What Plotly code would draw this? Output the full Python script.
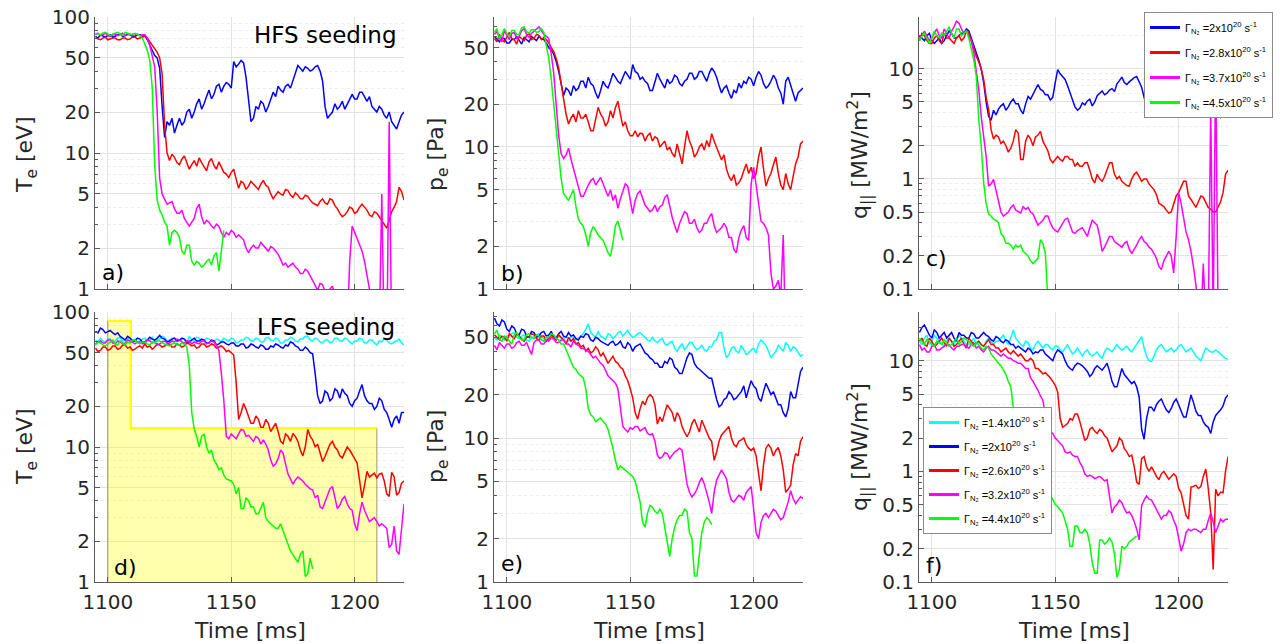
import plotly.graph_objects as go

W, H = 1280, 644
FONT = "DejaVu Sans"
TXT = "#262626"

# ---------------- data (1 ms sampling) ----------------
time_ms = [1095, 1096, 1097, 1098, 1099, 1100, 1101, 1102, 1103, 1104,
           1105, 1106, 1107, 1108, 1109, 1110, 1111, 1112, 1113, 1114,
           1115, 1116, 1117, 1118, 1119, 1120, 1121, 1122, 1123, 1124,
           1125, 1126, 1127, 1128, 1129, 1130, 1131, 1132, 1133, 1134,
           1135, 1136, 1137, 1138, 1139, 1140, 1141, 1142, 1143, 1144,
           1145, 1146, 1147, 1148, 1149, 1150, 1151, 1152, 1153, 1154,
           1155, 1156, 1157, 1158, 1159, 1160, 1161, 1162, 1163, 1164,
           1165, 1166, 1167, 1168, 1169, 1170, 1171, 1172, 1173, 1174,
           1175, 1176, 1177, 1178, 1179, 1180, 1181, 1182, 1183, 1184,
           1185, 1186, 1187, 1188, 1189, 1190, 1191, 1192, 1193, 1194,
           1195, 1196, 1197, 1198, 1199, 1200, 1201, 1202, 1203, 1204,
           1205, 1206, 1207, 1208, 1209, 1210, 1211, 1212, 1213, 1214,
           1215, 1216, 1217, 1218, 1219, 1220]

# a) Te, HFS seeding [eV]
te_hfs_blue = [72, 70, 74, 72, 71, 73, 74, 71, 72, 74,
               75, 72, 73, 75, 74, 72, 72, 74, 74, 72,
               73, 68, 62, 56, 52, 50, 42, 22, 13, 17,
               16, 18, 14, 16, 18, 16, 17, 20, 21, 18,
               20, 23, 25, 21, 23, 26, 29, 25, 27, 31,
               32, 28, 31, 33, 32, 30, 47, 43, 45, 48,
               46, 36, 24, 17, 18, 22, 21, 24, 23, 20,
               22, 25, 28, 26, 31, 29, 28, 31, 32, 30,
               34, 38, 44, 42, 40, 43, 42, 40, 41, 43,
               44, 40, 34, 22, 18, 19, 20, 23, 21, 22,
               24, 21, 23, 25, 27, 25, 25, 28, 28, 26,
               24, 26, 22, 21, 20, 22, 21, 19, 18, 20,
               17, 16, 15, 17, 19, 20]
te_hfs_red = [70, 69, 68, 70, 71, 68, 69, 70, 70, 68,
              68, 70, 70, 68, 69, 71, 71, 69, 70, 71,
              72, 70, 66, 62, 58, 55, 50, 38, 16, 10,
              8.8, 9.8, 9.3, 8.5, 8.2, 9.0, 9.5, 8.4, 7.6, 8.2,
              8.8, 8.0, 9.2, 8.5, 7.9, 7.4, 8.6, 9.1, 8.1, 7.6,
              8.6, 7.9, 7.2, 7.0, 6.6, 7.2, 7.6, 6.4, 5.5, 6.2,
              6.0, 5.4, 5.7, 6.2, 5.9, 5.6, 5.4, 5.9, 6.3, 5.8,
              5.6, 5.0, 4.6, 4.9, 5.2, 5.0, 4.9, 5.4, 5.3, 4.9,
              4.7, 5.1, 4.9, 4.6, 4.6, 4.9, 4.8, 4.5, 4.3, 4.2,
              4.1, 4.4, 4.6, 4.3, 4.2, 4.6, 4.5, 4.1, 3.9, 3.6,
              3.4, 3.5, 3.7, 4.0, 3.9, 3.6, 3.7, 4.0, 4.2, 4.0,
              3.8, 3.5, 3.4, 3.7, 3.6, 3.4, 3.2, 3.0, 2.8, 3.2,
              3.7, 4.0, 4.4, 5.6, 5.2, 4.5]
te_hfs_magenta = [74, 76, 73, 75, 76, 73, 72, 74, 75, 73,
                  74, 76, 73, 74, 75, 73, 74, 75, 73, 74,
                  74, 70, 62, 52, 43, 20, 6.5, 5.0, 4.6, 4.2,
                  4.3, 4.4, 3.9, 3.6, 3.6, 3.8, 3.3, 3.1, 2.9, 3.1,
                  3.3, 3.9, 4.2, 3.4, 3.0, 3.2, 3.1, 2.9, 2.8, 3.0,
                  2.9, 2.6, 2.4, 2.6, 2.5, 2.7, 2.6, 2.4, 2.5, 2.4,
                  2.3, 2.0, 1.85, 2.0, 2.1, 2.0, 2.0, 2.2, 2.1, 2.0,
                  1.9, 2.05, 2.0, 1.9, 1.8, 1.65, 1.5, 1.55, 1.45, 1.5,
                  1.55, 1.45, 1.4, 1.3, 1.3, 1.4, 1.35, 1.25, 1.15, 1.05,
                  0.98, 1.1, 1.08, 0.95, 0.9, 1.0, 1.05, 0.9, 0.85, 0.7,
                  0.6, 0.5, 0.5, 1.6, 2.9, 2.6, 2.4, 2.1, 1.9, 1.6,
                  1.3, 1.0, 0.6, 0.4, 0.3, 0.5, 5.0, 0.4, 0.3, 17,
                  0.4, 0.3, 0.3, 0.3, 0.3, 0.3]
te_hfs_green = [76, 75, 74, 76, 77, 75, 73, 75, 76, 77,
                75, 73, 77, 76, 74, 75, 76, 74, 73, 70,
                62, 57, 48, 30, 8, 4.5, 3.8, 3.5, 3.1, 2.9,
                2.1, 2.6, 2.7, 2.6, 2.4, 1.9, 1.8, 2.1, 2.1, 1.6,
                1.5, 1.6, 1.55, 1.45, 1.5, 1.6, 1.65, 1.5, 1.75, 1.85,
                1.35, 1.9, 2.7]

# d) Te, LFS seeding [eV]
te_lfs_cyan = [62, 60, 64, 61, 60, 63, 63, 59, 61, 64,
               65, 61, 62, 64, 60, 62, 63, 60, 61, 63,
               64, 61, 62, 65, 60, 62, 63, 66, 65, 61,
               62, 64, 64, 60, 61, 63, 63, 59, 66, 62,
               62, 65, 64, 60, 61, 64, 63, 61, 60, 63,
               62, 60, 64, 62, 61, 64, 63, 59, 60, 62,
               62, 65, 64, 61, 61, 64, 63, 60, 60, 64,
               65, 62, 61, 64, 63, 59, 59, 62, 62, 65,
               64, 61, 60, 63, 63, 66, 66, 62, 61, 64,
               63, 60, 59, 62, 62, 59, 60, 64, 64, 61,
               61, 64, 63, 60, 58, 61, 61, 64, 63, 59,
               59, 62, 62, 59, 57, 61, 60, 63, 62, 59,
               58, 60, 61, 63, 59, 57]
te_lfs_blue = [72, 70, 76, 74, 70, 72, 73, 70, 68, 70,
               66, 64, 62, 66, 64, 61, 61, 64, 63, 60,
               60, 62, 65, 63, 62, 64, 67, 64, 63, 60,
               61, 63, 64, 61, 62, 64, 63, 60, 60, 62,
               64, 61, 61, 63, 62, 59, 59, 62, 61, 57,
               58, 60, 60, 58, 57, 59, 59, 56, 56, 58,
               58, 54, 55, 58, 57, 55, 54, 57, 56, 53,
               53, 56, 55, 58, 57, 55, 54, 57, 56, 60,
               59, 56, 55, 52, 52, 55, 53, 50, 49, 35,
               24, 21, 22, 26, 25, 22, 23, 27, 26, 23,
               27, 25, 24, 21, 20, 22, 23, 26, 29, 24,
               22, 21, 21, 19, 20, 23, 22, 19, 18, 16,
               14, 16, 17, 15, 18, 18]
te_lfs_red = [54, 51, 52, 55, 55, 52, 53, 56, 56, 53,
              54, 57, 57, 54, 55, 52, 53, 55, 56, 54,
              58, 55, 56, 53, 55, 58, 57, 55, 56, 58,
              58, 55, 55, 58, 57, 55, 56, 59, 58, 56,
              57, 54, 55, 58, 58, 55, 56, 58, 57, 54,
              55, 56, 54, 51, 52, 50, 48, 30, 16, 18,
              21, 19, 17, 15, 15, 17, 16, 14, 14, 16,
              15, 13, 14, 15, 13, 11, 10.6, 12.5, 12, 11,
              12.6, 12, 11, 9.5, 8.6, 10, 13.5, 12, 11.3, 10,
              10.5, 9, 7.8, 8.5, 9.5, 10.5, 11, 10, 9.5, 8.6,
              8.3, 9.2, 10, 9.5, 8.7, 8.2, 7.6, 5.5, 4.2, 5.2,
              6.6, 6.0, 6.2, 6.4, 5.9, 6.3, 6.4, 5.6, 4.5, 4.3,
              6.5, 6.0, 4.4, 4.6, 5.4, 5.6]
te_lfs_magenta = [58, 60, 61, 59, 59, 62, 62, 59, 58, 61,
                  60, 58, 59, 62, 61, 59, 58, 60, 60, 58,
                  59, 62, 61, 59, 60, 57, 58, 60, 61, 59,
                  59, 61, 60, 63, 62, 60, 59, 61, 61, 58,
                  60, 59, 58, 61, 61, 58, 59, 61, 60, 57,
                  52, 35, 22, 12, 11.5, 12.5, 12, 11.5, 12.5, 13.5,
                  13.3, 12, 12.2, 11.5, 11, 12, 11.6, 10.5, 11.3, 10.5,
                  9.5, 8.0, 7.2, 7.5, 8.2, 9.5, 9, 7.5, 6.3, 5.8,
                  5.3, 5.7, 6, 5.8, 5.6, 5.3, 5.1, 4.9, 4.8, 4.2,
                  4.4, 3.6, 3.5, 3.9, 4.3, 4.9, 5.1, 4.2, 3.5, 3.7,
                  4.1, 4.3, 3.8, 3.5, 3.4, 2.7, 2.4, 3.2, 3.9, 3.4,
                  3.1, 2.8, 2.9, 3.0, 2.8, 2.6, 2.7, 2.6, 2.5, 1.8,
                  1.9, 2.6, 1.7, 1.6, 2.5, 3.8]
te_lfs_green = [57, 60, 59, 57, 56, 58, 60, 62, 58, 57,
                61, 59, 57, 60, 59, 62, 62, 59, 58, 60,
                60, 58, 57, 60, 59, 61, 61, 59, 58, 57,
                56, 58, 59, 57, 57, 59, 58, 55, 40, 18,
                13.5, 12, 10, 12, 12.5, 10, 9, 9.5, 8, 7.5,
                6.8, 7.0, 6.2, 5.8, 5.7, 5.6, 5.3, 4.5, 5.0, 3.5,
                3.5, 4.2, 4.0, 3.6, 3.6, 3.2, 3.2, 3.6, 3.9, 3.0,
                2.8, 2.7, 2.6, 2.5, 2.5, 2.7, 2.4, 2.1, 1.9, 1.7,
                1.6, 1.5, 1.4, 1.6, 1.7, 1.1, 1.15, 1.5, 1.25]

# seeding waveform (yellow box in panel d)
seed_t = [1100, 1100, 1109.3, 1109.3, 1209, 1209]
seed_level = [1, 86, 86, 13.8, 13.8, 1]

# b) pe, HFS seeding [Pa]
pe_hfs_blue = [60, 57, 55, 58, 58, 54, 54, 57, 57, 60,
               56, 53, 59, 57, 55, 60, 58, 56, 60, 58,
               57, 54, 50, 48, 45, 40, 34, 27, 23, 26,
               25, 23, 27, 25, 26, 29, 29, 26, 31, 28,
               27, 24, 22, 25, 29, 27, 26, 29, 33, 31,
               29, 28, 31, 34, 32, 30, 38, 34, 33, 30,
               31, 29, 28, 25, 25, 29, 33, 30, 28, 26,
               30, 28, 29, 32, 31, 28, 27, 29, 30, 33,
               33, 30, 31, 34, 34, 31, 29, 33, 36, 34,
               31, 27, 24, 26, 27, 24, 22, 25, 24, 28,
               26, 29, 28, 31, 30, 27, 31, 34, 32, 28,
               26, 27, 29, 32, 30, 26, 24, 20, 29, 31,
               27, 24, 21, 24, 25, 26]
pe_hfs_red = [58, 55, 62, 57, 55, 60, 64, 58, 57, 53,
              60, 58, 56, 61, 63, 57, 58, 62, 61, 57,
              59, 57, 54, 50, 47, 42, 36, 28, 21, 17,
              14.5, 16, 17, 15, 18, 16, 16, 17, 15, 13,
              13, 16, 19, 17, 16, 14, 15, 18, 16, 19,
              21, 17, 14, 15, 13, 12, 12, 13, 11.8, 12.5,
              12.4, 11, 12, 12.5, 11, 11.8, 11.5, 10, 10.5, 11,
              9.5, 10, 9, 8.5, 10.5, 9, 7.6, 10, 13, 11,
              10, 8.5, 9, 10, 10.5, 9.5, 11.1, 10, 12.4, 11,
              10, 9, 8.1, 8.8, 7, 6.2, 5.8, 6.4, 5.4, 5.6,
              6, 6.8, 7.6, 6.5, 7.2, 6.0, 6.5, 8.5, 10, 7,
              5.3, 6.0, 6.5, 7.5, 8.5, 6.5, 5.4, 5.0, 6.5, 5.5,
              5.0, 6.2, 7.6, 8.5, 10.5, 11]
pe_hfs_magenta = [62, 65, 58, 55, 66, 61, 57, 63, 64, 58,
                  60, 66, 68, 62, 59, 63, 65, 68, 70, 66,
                  62, 60, 58, 45, 33, 20, 12, 9, 8.3, 8.8,
                  9.8, 8.2, 7, 6.0, 5.2, 4.5, 4.5, 5.0, 5.4, 5.8,
                  6.0, 5.4, 5.8, 6.1, 5.5, 4.9, 4.5, 5.0, 4.2, 4.6,
                  3.7, 4.3, 4.8, 5.5, 5.3, 4.1, 3.4, 4.2, 4.7, 4.9,
                  4.3, 3.9, 3.7, 3.5, 3.6, 3.9, 3.5, 3.8, 3.9, 4.4,
                  4.6, 3.8, 3.2, 2.8, 2.5, 2.9, 3.2, 3.5, 3.4, 2.9,
                  2.9, 3.1, 2.7, 2.5, 2.6, 2.9, 2.9, 3.2, 3.4, 2.8,
                  2.5, 2.6, 2.7, 2.9, 2.7, 2.3, 2.3, 1.9, 1.8, 2.3,
                  2.6, 2.8, 2.3, 2.2, 5.5, 7.2, 5.2, 4.0, 3.0, 2.9,
                  2.7, 2.4, 1.3, 1.0, 1.05, 1.15, 0.9, 2.4, 0.4, 0.4,
                  0.4, 0.4, 0.4, 0.4, 0.4, 0.4]
pe_hfs_green = [64, 68, 58, 62, 68, 63, 60, 66, 66, 62,
                62, 69, 70, 65, 63, 67, 67, 64, 65, 68,
                64, 52, 42, 30, 20, 12, 8.5, 6.0, 4.7, 4.4,
                4.2, 4.6, 5.0, 3.8, 3.1, 2.9, 2.75, 2.4, 2.0, 2.5,
                2.75, 2.6, 2.4, 2.3, 2.2, 2.0, 1.8, 1.7, 2.1, 2.8,
                3.0, 2.6, 2.2]

# e) pe, LFS seeding [Pa]
pe_lfs_cyan = [50, 48, 52, 50, 48, 51, 51, 53, 54, 50,
               49, 51, 52, 48, 47, 50, 50, 52, 53, 50,
               49, 47, 51, 49, 48, 51, 52, 49, 50, 46,
               47, 50, 51, 48, 49, 51, 53, 57, 62, 54,
               52, 50, 55, 51, 50, 48, 53, 52, 49, 51,
               54, 55, 51, 53, 56, 52, 50, 51, 53, 54,
               52, 50, 48, 47, 50, 47, 46, 48, 49, 45,
               44, 46, 47, 42, 40, 43, 45, 41, 43, 46,
               46, 43, 41, 42, 44, 41, 40, 43, 43, 47,
               48, 54, 54, 42, 36, 38, 42, 43, 40, 39,
               44, 41, 38, 39, 41, 42, 39, 45, 48, 46,
               44, 40, 36, 38, 40, 44, 42, 40, 46, 44,
               40, 43, 42, 39, 37, 38]
pe_lfs_blue = [68, 62, 60, 66, 64, 57, 55, 60, 58, 53,
               52, 57, 56, 51, 50, 55, 54, 50, 51, 54,
               55, 51, 52, 55, 50, 49, 53, 55, 51, 50,
               54, 51, 52, 49, 48, 51, 50, 53, 52, 48,
               47, 50, 49, 47, 46, 45, 44, 46, 47, 44,
               45, 47, 43, 42, 46, 44, 40, 43, 44, 45,
               42, 39, 38, 36, 35, 33, 33, 31, 31, 34,
               33, 36, 35, 31, 30, 28, 28, 32, 36, 39,
               38, 33, 31, 30, 29, 28, 27, 26, 26, 22,
               18.5, 16.5, 17, 18.5, 19, 21, 20, 18.5, 19, 20,
               21, 23, 19, 22, 25, 23, 22, 19, 18, 21,
               24, 22, 20, 21, 19, 17, 17, 15, 14, 16,
               21, 19, 19, 23, 29, 31]
pe_lfs_red = [52, 50, 48, 51, 50, 47, 53, 51, 49, 53,
              51, 49, 47, 50, 50, 53, 52, 49, 48, 51,
              51, 47, 49, 52, 50, 48, 52, 50, 48, 45,
              50, 47, 49, 45, 46, 43, 44, 40, 42, 39,
              40, 43, 41, 37, 39, 36, 33, 35, 37, 34,
              33, 31, 30, 27, 25, 22, 19, 15, 13.5, 16,
              18, 17, 19, 20, 19.3, 17, 12.5, 14, 13, 15,
              17, 16, 15, 13, 15, 14, 12, 11, 10.2, 11,
              12.6, 13.5, 12, 11, 13.3, 12, 11, 10, 9.5, 7,
              8, 9.5, 10.5, 11, 11.5, 12, 10, 9, 8.7, 9.5,
              9.7, 10, 9, 8.5, 8.2, 8.5, 7.5, 5.6, 4.3, 6.5,
              8.5, 9, 8.5, 7.5, 8.2, 8.6, 7.5, 6, 4.2, 4.4,
              4.7, 6.5, 7.8, 7.5, 9.5, 10.2]
pe_lfs_magenta = [44, 41, 46, 44, 42, 45, 45, 42, 43, 46,
                  47, 44, 44, 46, 42, 38, 46, 48, 48, 45,
                  45, 48, 47, 50, 49, 46, 46, 48, 48, 45,
                  45, 43, 47, 45, 44, 42, 42, 41, 40, 38,
                  36, 37, 35, 33, 32, 29, 27, 26, 25, 24,
                  22, 16, 12, 11.5, 11, 11.8, 11.5, 12, 12, 11.2,
                  11.5, 11.8, 10.8, 10.5, 10.7, 9.5, 7.6, 7.2, 7.4, 7.9,
                  7.8, 7.2, 7.6, 8.0, 8.2, 8.5, 8.2, 6.0, 4.8, 4.2,
                  3.9, 4.1, 4.4, 4.9, 5.3, 4.8, 4.2, 3.6, 3.0, 4.2,
                  5.1, 5.6, 6, 5.6, 5.2, 4.2, 3.7, 3.6, 3.8, 4.0,
                  3.9, 3.7, 4.2, 4.4, 4.6, 3.2, 2.2, 2.0, 2.6, 2.9,
                  3.0, 2.8, 3.0, 3.2, 3.1, 2.9, 2.7, 2.8, 3.2, 3.6,
                  4.3, 3.8, 3.5, 3.7, 3.9, 3.8]
pe_lfs_green = [53, 56, 49, 47, 51, 50, 47, 45, 52, 54,
                50, 48, 48, 52, 53, 50, 49, 52, 51, 48,
                47, 50, 50, 53, 52, 49, 48, 45, 45, 41,
                38, 34, 31, 30, 28, 27, 26, 22, 16, 14.5,
                14, 13, 13.5, 13.8, 13, 12.5, 11.5, 10, 8.5, 7.0,
                6.0, 6.4, 6.2, 6.0, 5.8, 5.6, 5.4, 5.0, 4.2, 3.6,
                2.6, 2.4, 3.0, 3.4, 3.3, 3.1, 3.0, 3.2, 3.0, 2.4,
                1.8, 1.5, 2.0, 2.4, 2.7, 2.9, 2.9, 3.2, 3.1, 2.2,
                2.0, 1.1, 1.1, 1.6, 2.2, 2.6, 2.8, 2.7, 2.5]

# c) q_par, HFS seeding [MW/m2]
q_hfs_blue = [20, 19, 18, 20, 21, 18, 17, 18, 19, 17,
              18, 20, 22, 21, 19, 19, 20, 21, 21, 23,
              22, 19, 16, 14, 12, 10, 7.5, 5.0, 3.7, 3.4,
              4.2, 3.8, 4.3, 4.6, 4.8, 4.2, 4.5, 5.0, 5.3, 4.8,
              4.8, 4.2, 3.9, 4.8, 5.6, 5.3, 5.9, 6.5, 7.2, 6.5,
              6.3, 5.8, 5.8, 5.2, 5.5, 7.5, 9.8, 9.0, 8.5, 8.0,
              7.0, 6.0, 5.0, 4.5, 4.2, 4.4, 4.9, 4.7, 5.1, 5.3,
              4.6, 5.0, 5.7, 6.0, 6.3, 5.8, 6.0, 6.4, 6.6, 6.2,
              7.3, 7.8, 8.4, 7.5, 7.2, 7.6, 8.0, 8.3, 8.5, 7.6,
              6.8, 5.5, 4.5, 4.8, 5.2, 5.8, 5.6, 5.2, 5.0, 5.6,
              6.0, 6.2, 5.6, 5.9, 6.3, 6.0, 5.8, 6.4, 6.8, 6.0,
              5.2, 5.6, 6.0, 5.8, 5.5, 5.1, 5.0, 4.8, 4.6, 4.4,
              4.2, 3.9, 3.6, 3.8, 3.7, 3.6]
q_hfs_red = [18, 21, 20, 18, 17, 17, 19, 20, 18, 17,
             21, 19, 19, 18, 17, 19, 20, 18, 19, 22,
             21, 18, 15, 13, 11.5, 10, 8, 5.5, 4.3, 2.8,
             2.3, 2.5, 2.4, 2.1, 2.2, 2.0, 1.75, 1.9, 2.2, 2.8,
             2.6, 1.5, 1.5, 2.2, 2.5, 2.3, 2.0, 2.4, 2.5, 2.7,
             2.2, 2.0, 1.8, 1.5, 1.4, 1.5, 1.6, 1.5, 1.45, 1.6,
             1.6, 1.5, 1.5, 1.3, 1.4, 1.3, 1.3, 1.4, 1.4, 1.2,
             1.0, 0.92, 1.1, 1.0, 0.95, 1.05, 1.2, 1.4, 1.4, 1.1,
             1.0, 1.05, 0.95, 0.9, 0.87, 0.86, 1.0, 1.1, 1.15, 1.05,
             0.95, 1.0, 1.0, 0.9, 0.85, 0.8, 0.72, 0.6, 0.58, 0.56,
             0.52, 0.49, 0.5, 0.6, 0.7, 0.75, 0.85, 0.95, 0.95, 0.7,
             0.65, 0.6, 0.55, 0.62, 0.7, 0.68, 0.6, 0.55, 0.53, 0.5,
             0.5, 0.55, 0.62, 0.75, 1.1, 1.2]
q_hfs_magenta = [19, 20, 22, 20, 18, 19, 21, 23, 20, 19,
                 23, 21, 19, 22, 24, 27, 26, 23, 21, 22,
                 20, 18, 14, 10, 6.5, 3.7, 2.4, 1.6, 0.86, 0.9,
                 0.99, 0.8, 0.62, 0.5, 0.46, 0.48, 0.5, 0.55, 0.58, 0.52,
                 0.5, 0.49, 0.56, 0.53, 0.55, 0.5, 0.48, 0.42, 0.38, 0.4,
                 0.42, 0.46, 0.46, 0.4, 0.36, 0.34, 0.33, 0.36, 0.4, 0.43,
                 0.44, 0.38, 0.33, 0.32, 0.34, 0.35, 0.36, 0.33, 0.3, 0.36,
                 0.42, 0.4, 0.38, 0.3, 0.22, 0.24, 0.27, 0.3, 0.3, 0.27,
                 0.26, 0.25, 0.24, 0.26, 0.27, 0.23, 0.21, 0.23, 0.25, 0.28,
                 0.3, 0.27, 0.26, 0.24, 0.23, 0.21, 0.19, 0.16, 0.15, 0.18,
                 0.2, 0.22, 0.2, 0.14, 0.3, 0.75, 0.6, 0.43, 0.33, 0.28,
                 0.22, 0.16, 0.11, 0.07, 0.05, 0.17, 0.05, 0.05, 4.5, 0.05,
                 12, 0.05, 0.05, 0.05, 0.05, 0.05]
q_hfs_green = [18, 20, 21, 19, 17, 19, 22, 20, 19, 21,
               20, 22, 24, 21, 19, 23, 23, 20, 21, 22,
               19, 15, 12, 8.6, 3.5, 2.0, 0.92, 0.6, 0.48, 0.46,
               0.43, 0.42, 0.4, 0.32, 0.3, 0.26, 0.26, 0.25, 0.23, 0.25,
               0.24, 0.25, 0.22, 0.21, 0.2, 0.18, 0.17, 0.18, 0.19, 0.28,
               0.26, 0.21, 0.08]

# f) q_par, LFS seeding [MW/m2]
q_lfs_cyan = [15, 14, 16, 17, 14, 15, 17, 16, 15, 14,
              13.5, 15, 16, 15, 14, 16, 17, 16, 15, 14,
              14, 15, 16, 14, 15, 14, 13.5, 15, 16, 15,
              14, 15, 15, 16, 17, 15, 14, 16, 19, 16,
              15, 14, 13.5, 15, 14.5, 13, 12.5, 14, 15, 14,
              13, 14, 14, 13, 12.5, 13.5, 13.5, 12.5, 12, 13,
              14, 12.5, 11.5, 12, 13, 12, 11, 12, 12.5, 11.5,
              11, 11.5, 12, 11, 10.5, 12, 13, 12.5, 12, 13,
              14, 13, 12.5, 13, 13.5, 12.5, 12, 13, 14, 15,
              16.5, 13, 11, 10, 9.8, 11, 12.5, 13.5, 14, 13,
              12, 12.5, 13, 12, 12.5, 13.5, 14, 13, 12, 12.5,
              13, 12, 11, 10.5, 10, 11.5, 13, 12.5, 12, 12,
              12.5, 12, 11.5, 11, 10.5, 10.3]
q_lfs_blue = [18, 20, 21, 19, 17, 16, 19, 18, 16, 17,
              18, 16, 17, 18, 16, 15, 18, 17, 17, 16,
              16, 18, 17.5, 16, 16, 17, 18, 17, 16.5, 15.5,
              15, 16.5, 16, 15, 14.5, 15.5, 15, 14, 14, 13,
              13.5, 13, 12.5, 12, 13, 12.5, 11.5, 12, 11.8, 12.5,
              12.5, 11.5, 11, 10.5, 10, 11.5, 12.5, 12, 11.5, 10,
              9, 8.5, 8.2, 9, 9.5, 9.3, 9, 8.5, 8, 7.2,
              7.6, 8.5, 9, 8.6, 8.2, 8.8, 9.5, 8, 6.5, 5.8,
              5.8, 7.0, 8.5, 7.5, 7, 6.5, 6.2, 6.5, 5.8, 4.7,
              2.4, 1.95, 3.0, 3.8, 3.8, 3.5, 4.0, 4.3, 4.5, 4.0,
              3.6, 3.4, 3.7, 4.2, 4.5, 4.0, 3.5, 3.1, 3.1, 4.0,
              4.9, 4.2, 3.5, 3.2, 3.2, 2.8, 2.6, 2.5, 2.2, 2.8,
              3.2, 3.4, 3.6, 3.9, 4.6, 4.9]
q_lfs_red = [15, 16, 14, 13.5, 16, 15, 13.5, 14, 15, 16,
             14.5, 13.5, 16, 15, 13.5, 14, 15, 16, 14, 13,
             16, 15, 14, 14.5, 15, 14, 13.5, 14.5, 15.5, 14,
             14, 13, 13, 12, 12.5, 13, 12, 11.5, 12.3, 11.5,
             11, 11.5, 10.7, 10, 10, 10.5, 10, 8.5, 8.5, 8.0,
             7.6, 7.8, 7.4, 7.0, 6.5, 6.0, 5.2, 3.0, 2.5, 2.6,
             2.7, 3.0, 2.9, 3.3, 3.3, 2.8, 2.3, 1.9, 2.0, 2.4,
             2.5, 2.3, 2.2, 2.4, 2.3, 2.1, 2.0, 1.7, 1.5, 1.6,
             1.7, 2.0, 1.9, 1.6, 1.5, 1.36, 1.4, 1.1, 0.8, 0.76,
             1.3, 1.36, 1.1, 1.0, 1.1, 1.0, 0.9, 0.84, 0.95, 1.0,
             0.92, 0.85, 0.9, 0.95, 0.9, 0.7, 0.64, 0.5, 0.4, 0.37,
             0.72, 0.73, 0.75, 0.7, 0.73, 0.9, 1.05, 0.7, 0.42, 0.13,
             0.69, 0.6, 0.65, 0.64, 1.0, 1.36]
q_lfs_magenta = [14, 12.5, 13, 12, 12, 13.5, 14, 12.5, 12.5, 13,
                 13.5, 14, 14, 13, 12.5, 13.5, 13.5, 14, 14, 13.5,
                 13, 14, 14.5, 13, 13.5, 12.5, 12, 13, 13.5, 12.5,
                 12.5, 12, 11.5, 11, 11.5, 11, 10.5, 10.5, 10, 9.8,
                 9.5, 9.5, 9, 8.5, 8.5, 7.0, 6.5, 6.0, 5.4, 4.8,
                 4.4, 3.2, 2.5, 2.3, 2.2, 2.0, 1.9, 1.8, 1.7, 1.5,
                 1.46, 1.5, 1.4, 1.36, 1.36, 1.2, 1.1, 0.95, 0.9, 0.92,
                 0.9, 0.86, 0.88, 0.9, 0.86, 0.82, 0.84, 0.6, 0.42, 0.48,
                 0.5, 0.55, 0.52, 0.46, 0.42, 0.43, 0.4, 0.35, 0.3, 0.24,
                 0.49, 0.55, 0.6, 0.56, 0.55, 0.5, 0.45, 0.4, 0.37, 0.4,
                 0.4, 0.44, 0.42, 0.36, 0.32, 0.25, 0.19, 0.22, 0.28, 0.3,
                 0.29, 0.3, 0.3, 0.29, 0.28, 0.3, 0.3, 0.36, 0.42, 0.35,
                 0.28, 0.32, 0.37, 0.35, 0.37, 0.37]
q_lfs_green = [16, 15, 14, 15.5, 15, 14, 13.5, 15, 14.5, 14,
               15.5, 14.5, 13.5, 14, 15, 16, 14, 15, 16, 15.5,
               15, 14, 13.5, 14.5, 14, 13, 12.5, 13.5, 13, 11.5,
               10.7, 10, 9.5, 9, 8.1, 7.5, 6.5, 5.8, 3.8, 3.2,
               2.8, 2.4, 2.0, 1.7, 1.5, 1.3, 1.1, 1.0, 0.9, 0.8,
               0.75, 0.7, 0.65, 0.6, 0.56, 0.5, 0.48, 0.45, 0.42, 0.36,
               0.3, 0.21, 0.21, 0.32, 0.32, 0.28, 0.28, 0.3, 0.28, 0.22,
               0.15, 0.12, 0.12, 0.24, 0.24, 0.22, 0.23, 0.25, 0.23, 0.18,
               0.11, 0.13, 0.21, 0.2, 0.21, 0.23, 0.24, 0.25, 0.26]

hfs_labels = ["2", "2.8", "3.7", "4.5"]
lfs_labels = ["1.4", "2", "2.6", "3.2", "4.4"]

# ---------------- styling ----------------
C = {"cyan": "#00ffff", "blue": "#0000ff", "red": "#ff0000",
     "magenta": "#ff00ff", "green": "#00ff00"}
LW = 1.5

cols_px = [(95, 404), (494, 803), (919, 1228)]
rows_px = [(17, 289), (312, 582)]

fig = go.Figure()

def add_series(series, ax_idx):
    xa = "x" if ax_idx == 1 else f"x{ax_idx}"
    ya = "y" if ax_idx == 1 else f"y{ax_idx}"
    for color, vals in series:
        fig.add_trace(go.Scatter(
            x=time_ms[:len(vals)], y=vals, mode="lines",
            line=dict(color=C[color], width=LW),
            xaxis=xa, yaxis=ya, showlegend=False, hoverinfo="skip"))

# yellow seeding box (panel d) drawn first so curves lie on top
fig.add_trace(go.Scatter(x=seed_t, y=seed_level, mode="lines", fill="toself",
                         fillcolor="rgba(255,255,0,0.32)",
                         line=dict(color="rgba(120,120,70,0.75)", width=1),
                         xaxis="x4", yaxis="y4", showlegend=False, hoverinfo="skip"))
fig.add_trace(go.Scatter(x=seed_t[1:5], y=seed_level[1:5], mode="lines",
                         line=dict(color="#ffff00", width=2.2),
                         xaxis="x4", yaxis="y4", showlegend=False, hoverinfo="skip"))

add_series([("blue", te_hfs_blue), ("red", te_hfs_red),
            ("magenta", te_hfs_magenta), ("green", te_hfs_green)], 1)
add_series([("blue", pe_hfs_blue), ("red", pe_hfs_red),
            ("magenta", pe_hfs_magenta), ("green", pe_hfs_green)], 2)
add_series([("blue", q_hfs_blue), ("red", q_hfs_red),
            ("magenta", q_hfs_magenta), ("green", q_hfs_green)], 3)
add_series([("cyan", te_lfs_cyan), ("blue", te_lfs_blue), ("red", te_lfs_red),
            ("magenta", te_lfs_magenta), ("green", te_lfs_green)], 4)
add_series([("cyan", pe_lfs_cyan), ("blue", pe_lfs_blue), ("red", pe_lfs_red),
            ("magenta", pe_lfs_magenta), ("green", pe_lfs_green)], 5)
add_series([("cyan", q_lfs_cyan), ("blue", q_lfs_blue), ("red", q_lfs_red),
            ("magenta", q_lfs_magenta), ("green", q_lfs_green)], 6)

# legend entries (thicker sample lines, as in the original)
def leg_text(v):
    return f"Γ<sub>N₂</sub> ={v}x10<sup>20</sup> s<sup>-1</sup>"

for i, (color, v) in enumerate(zip(["blue", "red", "magenta", "green"], hfs_labels)):
    fig.add_trace(go.Scatter(x=[None], y=[None], mode="lines", name=leg_text(v),
                             line=dict(color=C[color], width=3), xaxis="x3", yaxis="y3",
                             legend="legend", legendgroup=f"h{i}", showlegend=True))
for i, (color, v) in enumerate(zip(["cyan", "blue", "red", "magenta", "green"], lfs_labels)):
    fig.add_trace(go.Scatter(x=[None], y=[None], mode="lines", name=leg_text(v),
                             line=dict(color=C[color], width=3), xaxis="x6", yaxis="y6",
                             legend="legend2", legendgroup=f"l{i}", showlegend=True))

# ---------------- axes ----------------
y_specs = [
    dict(rng=[0, 2], vals=[1, 2, 5, 10, 20, 50, 100],
         minor=[3, 4, 6, 7, 8, 9, 30, 40, 60, 70, 80, 90]),
    dict(rng=[0, 1.915], vals=[1, 2, 5, 10, 20, 50],
         minor=[3, 4, 6, 7, 8, 9, 30, 40, 60, 70]),
    dict(rng=[-1, 1.47], vals=[0.1, 0.2, 0.5, 1, 2, 5, 10],
         minor=[0.3, 0.4, 0.6, 0.7, 0.8, 0.9, 3, 4, 6, 7, 8, 9, 20]),
    dict(rng=[0, 2], vals=[1, 2, 5, 10, 20, 50, 100],
         minor=[3, 4, 6, 7, 8, 9, 30, 40, 60, 70, 80, 90]),
    dict(rng=[0, 1.875], vals=[1, 2, 5, 10, 20, 50],
         minor=[3, 4, 6, 7, 8, 9, 30, 40, 60, 70]),
    dict(rng=[-1, 1.44], vals=[0.1, 0.2, 0.5, 1, 2, 5, 10],
         minor=[0.3, 0.4, 0.6, 0.7, 0.8, 0.9, 3, 4, 6, 7, 8, 9, 20]),
]

GRID = "#e2e2e2"
MINOR_GRID = "#ececec"
AXLINE = "#5a5a5a"
tickfont = dict(family=FONT, size=20, color=TXT)

layout_axes = {}
for n in range(1, 7):
    r = 0 if n <= 3 else 1
    c = (n - 1) % 3
    xname = "xaxis" if n == 1 else f"xaxis{n}"
    yname = "yaxis" if n == 1 else f"yaxis{n}"
    ys = y_specs[n - 1]
    layout_axes[xname] = dict(
        domain=[cols_px[c][0] / W, cols_px[c][1] / W],
        anchor="y" if n == 1 else f"y{n}",
        range=[1094.8, 1220], tickvals=[1100, 1150, 1200],
        showticklabels=(r == 1), ticks="inside", ticklen=5, tickcolor=AXLINE,
        ticklabelstandoff=2, automargin=False,
        showline=True, linecolor=AXLINE, linewidth=1, mirror=False,
        showgrid=True, gridcolor=GRID, zeroline=False, tickfont=tickfont)
    layout_axes[yname] = dict(
        domain=[1 - rows_px[r][1] / H, 1 - rows_px[r][0] / H],
        anchor="x" if n == 1 else f"x{n}",
        type="log", range=ys["rng"], tickvals=ys["vals"],
        ticktext=[f"{v:g}" for v in ys["vals"]],
        ticks="inside", ticklen=5, tickcolor=AXLINE, automargin=False,
        showline=True, linecolor=AXLINE, linewidth=1, mirror=False,
        showgrid=True, gridcolor=GRID, zeroline=False, tickfont=tickfont,
        minor=dict(tickvals=ys["minor"], ticks="inside", ticklen=3,
                   tickcolor=AXLINE, showgrid=True, gridcolor=MINOR_GRID,
                   griddash="dot"))

# ---------------- annotations ----------------
ann = []
def A(text, px, py, size, **kw):
    d = dict(text=text, x=px / W, y=1 - py / H, xref="paper", yref="paper",
             showarrow=False, font=dict(family=FONT, size=size, color=kw.pop("color", TXT)))
    d.update(kw)
    ann.append(d)

ytitles = ["T<sub>e</sub> [eV]", "p<sub>e</sub> [Pa]", "q<sub>||</sub> [MW/m<sup>2</sup>]"]
ytitle_x = [26, 437, 860]
ytitle_y = [155, 447]
for r in range(2):
    for c in range(3):
        A(ytitles[c], ytitle_x[c], ytitle_y[r], 22, textangle=-90,
          xanchor="center", yanchor="middle")
for c in range(3):
    A("Time [ms]", (cols_px[c][0] + cols_px[c][1]) / 2, 630, 22,
      xanchor="center", yanchor="middle")

A("HFS seeding", 398, 35, 23, color="#000000", xanchor="right", yanchor="middle")
A("LFS seeding", 397, 327, 23, color="#000000", xanchor="right", yanchor="middle")

panel_tags = [("a)", 100, 272), ("b)", 499, 273), ("c)", 924, 258),
              ("d)", 112, 567), ("e)", 499, 563), ("f)", 924, 565)]
for txt, px, py in panel_tags:
    A(txt, px, py, 22, color="#000000", xanchor="left", yanchor="middle")

legfont = dict(family="Liberation Sans", size=11, color="#000000")
fig.update_layout(
    width=W, height=H, margin=dict(l=0, r=0, t=0, b=0, autoexpand=False),
    paper_bgcolor="white", plot_bgcolor="white",
    showlegend=True, annotations=ann,
    legend=dict(x=1144 / W, y=1 - 12 / H, xanchor="left", yanchor="top",
                bgcolor="white", bordercolor="#8a8a8a", borderwidth=1,
                font=legfont, itemwidth=30, tracegroupgap=6),
    legend2=dict(x=923 / W, y=1 - 407 / H, xanchor="left", yanchor="top",
                 bgcolor="white", bordercolor="#8a8a8a", borderwidth=1,
                 font=legfont, itemwidth=30, tracegroupgap=5),
    **layout_axes)

fig.write_html("out.html", config={"displayModeBar": False},
               post_script="document.body.style.margin='0';")
